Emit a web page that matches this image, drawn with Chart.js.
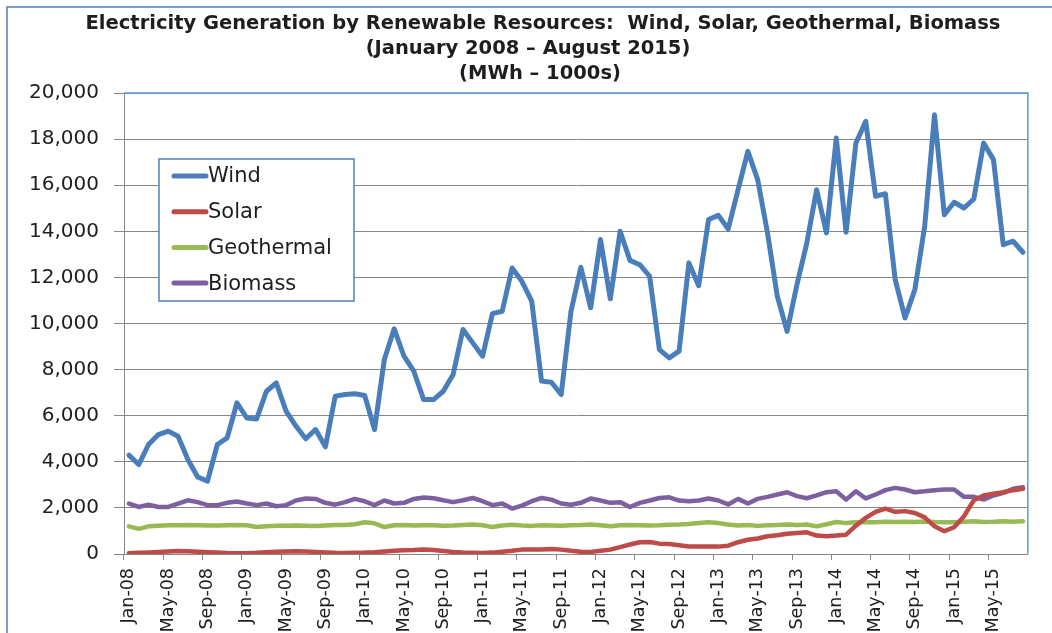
<!DOCTYPE html>
<html>
<head>
<meta charset="utf-8">
<title>Electricity Generation by Renewable Resources</title>
<script src="https://cdn.jsdelivr.net/npm/chart.js@4.4.0/dist/chart.umd.min.js"></script>
<style>
  html, body { margin: 0; padding: 0; background: #fff; }
</style>
</head>
<body>
<canvas id="renewables" width="1052" height="633"></canvas>
<script>
// Monthly categories, Jan 2008 - Aug 2015
const months = [
  "Jan-08","Feb-08","Mar-08","Apr-08","May-08","Jun-08","Jul-08","Aug-08","Sep-08","Oct-08","Nov-08","Dec-08",
  "Jan-09","Feb-09","Mar-09","Apr-09","May-09","Jun-09","Jul-09","Aug-09","Sep-09","Oct-09","Nov-09","Dec-09",
  "Jan-10","Feb-10","Mar-10","Apr-10","May-10","Jun-10","Jul-10","Aug-10","Sep-10","Oct-10","Nov-10","Dec-10",
  "Jan-11","Feb-11","Mar-11","Apr-11","May-11","Jun-11","Jul-11","Aug-11","Sep-11","Oct-11","Nov-11","Dec-11",
  "Jan-12","Feb-12","Mar-12","Apr-12","May-12","Jun-12","Jul-12","Aug-12","Sep-12","Oct-12","Nov-12","Dec-12",
  "Jan-13","Feb-13","Mar-13","Apr-13","May-13","Jun-13","Jul-13","Aug-13","Sep-13","Oct-13","Nov-13","Dec-13",
  "Jan-14","Feb-14","Mar-14","Apr-14","May-14","Jun-14","Jul-14","Aug-14","Sep-14","Oct-14","Nov-14","Dec-14",
  "Jan-15","Feb-15","Mar-15","Apr-15","May-15","Jun-15","Jul-15","Aug-15"
];

// MWh (1000s)
const wind = [
  4290, 3880, 4750, 5180, 5330, 5110, 4100, 3340, 3160, 4750, 5040, 6560,
  5900, 5860, 7060, 7420, 6200, 5550, 5000, 5400, 4650, 6850, 6920, 6950,
  6880, 5400, 8440, 9770, 8580, 7930, 6700, 6700, 7060, 7790, 9740, 9160,
  8580, 10430, 10530, 12410, 11830, 10970, 7500, 7450, 6920, 10530, 12440, 10680,
  13640, 11070, 14000, 12740, 12550, 12050, 8870, 8510, 8800, 12630, 11640, 14510,
  14690, 14100, 15800, 17470, 16240, 13930, 11180, 9660, 11690, 13490, 15800, 13930,
  18050, 13960, 17830, 18770, 15520, 15630, 11900, 10240, 11470, 14220, 19060, 14720,
  15260, 15010, 15400, 17830, 17110, 13420, 13570, 13090
];
const solar = [
  30, 50, 70, 90, 110, 130, 120, 100, 80, 60, 40, 30,
  30, 50, 80, 100, 110, 120, 110, 90, 70, 50, 40, 50,
  60, 80, 110, 140, 160, 170, 190, 170, 130, 90, 60, 50,
  40, 60, 100, 140, 190, 190, 200, 220, 190, 140, 100, 90,
  140, 190, 300, 410, 510, 520, 450, 430, 380, 330, 320, 330,
  320, 360, 510, 620, 670, 770, 810, 880, 910, 940, 800, 770,
  800, 840, 1230, 1570, 1830, 1970, 1830, 1860, 1780, 1590, 1200, 990,
  1160, 1640, 2330, 2540, 2620, 2680, 2770, 2830
];
const geothermal = [
  1200, 1090, 1200, 1230, 1250, 1250, 1260, 1250, 1240, 1240, 1250, 1260,
  1250, 1170, 1200, 1230, 1230, 1240, 1230, 1220, 1240, 1260, 1260, 1290,
  1380, 1330, 1170, 1250, 1260, 1240, 1250, 1250, 1230, 1240, 1260, 1280,
  1250, 1170, 1240, 1270, 1240, 1220, 1250, 1240, 1230, 1250, 1260, 1280,
  1250, 1200, 1250, 1260, 1250, 1240, 1250, 1270, 1280, 1300, 1340, 1380,
  1340, 1280, 1240, 1260, 1220, 1250, 1260, 1280, 1260, 1280, 1200, 1290,
  1390, 1340, 1380, 1390, 1380, 1400, 1390, 1400, 1390, 1410, 1390, 1380,
  1380, 1400, 1420, 1390, 1400, 1420, 1400, 1420
];
const biomass = [
  2190, 2040, 2140, 2040, 2040, 2190, 2330, 2250, 2120, 2120, 2220, 2280,
  2190, 2120, 2190, 2070, 2120, 2320, 2410, 2390, 2220, 2140, 2250, 2390,
  2290, 2120, 2320, 2190, 2220, 2390, 2450, 2420, 2330, 2250, 2330, 2430,
  2290, 2120, 2190, 1970, 2100, 2290, 2430, 2360, 2190, 2140, 2220, 2410,
  2320, 2220, 2250, 2040, 2220, 2320, 2430, 2460, 2320, 2290, 2320, 2410,
  2320, 2150, 2390, 2190, 2390, 2480, 2580, 2680, 2510, 2420, 2540, 2680,
  2720, 2360, 2720, 2410, 2580, 2770, 2870, 2800, 2680, 2720, 2770, 2800,
  2800, 2480, 2480, 2360, 2540, 2650, 2830, 2900
];

const titleLines = [
  "Electricity Generation by Renewable Resources:  Wind, Solar, Geothermal, Biomass",
  "(January 2008 \u2013 August 2015)",
  "(MWh \u2013 1000s)"
];

const GRID = "#868686";
const TEXT = "#1e1e1e";
const FONT = "'DejaVu Sans', sans-serif";

// Frame, title and the inset legend are drawn by hand, the way the Excel chart looks
const decorPlugin = {
  id: "decor",
  beforeDraw(chart) {
    const ctx = chart.ctx;
    ctx.save();
    ctx.fillStyle = "#fff";
    ctx.fillRect(0, 0, chart.width, chart.height);
    // outer chart frame
    ctx.strokeStyle = "#4f81bd";
    ctx.lineWidth = 1.5;
    ctx.beginPath();
    ctx.moveTo(7, chart.height);
    ctx.lineTo(7, 7);
    ctx.lineTo(chart.width, 7);
    ctx.stroke();
    ctx.restore();
  },
  afterDraw(chart) {
    const ctx = chart.ctx;
    const area = chart.chartArea;
    ctx.save();

    // plot area border (top and right)
    ctx.strokeStyle = "#5b9bd5";
    ctx.lineWidth = 1.5;
    ctx.beginPath();
    ctx.moveTo(area.left, area.top);
    ctx.lineTo(area.right, area.top);
    ctx.lineTo(area.right, area.bottom);
    ctx.stroke();

    // title
    ctx.fillStyle = TEXT;
    ctx.font = "bold 19.5px " + FONT;
    ctx.textAlign = "center";
    ctx.textBaseline = "alphabetic";
    const centers = [543, 528, 540];
    const baselines = [29, 54, 79];
    titleLines.forEach((line, i) => ctx.fillText(line, centers[i], baselines[i]));

    // legend box
    const box = { x: 159, y: 159, w: 195, h: 142 };
    ctx.fillStyle = "#fff";
    ctx.fillRect(box.x, box.y, box.w, box.h);
    ctx.strokeStyle = "#4f81bd";
    ctx.lineWidth = 1.5;
    ctx.strokeRect(box.x, box.y, box.w, box.h);

    ctx.font = "21px " + FONT;
    ctx.textAlign = "left";
    ctx.textBaseline = "middle";
    chart.data.datasets.forEach((ds, i) => {
      const y = 176 + i * 35.7;
      ctx.strokeStyle = ds.borderColor;
      ctx.lineWidth = 5;
      ctx.lineCap = "round";
      ctx.beginPath();
      ctx.moveTo(174, y);
      ctx.lineTo(206, y);
      ctx.stroke();
      ctx.fillStyle = TEXT;
      ctx.fillText(ds.label, 208, y + 1);
    });
    ctx.restore();
  }
};

function lineSet(label, data, color, width) {
  return {
    label: label,
    data: data,
    borderColor: color,
    backgroundColor: color,
    borderWidth: width,
    borderJoinStyle: "round",
    borderCapStyle: "round",
    pointRadius: 0,
    tension: 0,
    fill: false
  };
}

new Chart(document.getElementById("renewables").getContext("2d"), {
  type: "line",
  data: {
    labels: months,
    datasets: [
      lineSet("Wind", wind, "#4a7ebb", 5),
      lineSet("Solar", solar, "#be4b48", 4.5),
      lineSet("Geothermal", geothermal, "#98b954", 4.5),
      lineSet("Biomass", biomass, "#7d60a0", 4.5)
    ]
  },
  options: {
    responsive: false,
    animation: false,
    layout: { padding: { top: 93, right: 13, left: 0, bottom: 0 } },
    plugins: {
      legend: { display: false },
      title: { display: false },
      tooltip: { enabled: false }
    },
    scales: {
      x: {
        offset: true,
        grid: {
          display: true,
          offset: true,
          drawOnChartArea: false,
          tickLength: 6,
          tickWidth: 1,
          tickColor: (c) => (c.index !== undefined && c.index % 4 === 0 ? GRID : "rgba(0,0,0,0)")
        },
        border: { color: GRID, width: 1 },
        ticks: {
          autoSkip: false,
          minRotation: 90,
          maxRotation: 90,
          padding: 8,
          color: TEXT,
          font: { family: FONT, size: 17.5 },
          callback: function (value, index) {
            return index % 4 === 0 ? this.getLabelForValue(value) : "";
          }
        },
        afterFit: (scale) => { scale.height = 79; }
      },
      y: {
        min: 0,
        max: 20000,
        grid: { color: GRID, tickLength: 10, lineWidth: 1 },
        border: { color: GRID, width: 1 },
        ticks: {
          stepSize: 2000,
          padding: 15,
          color: TEXT,
          font: { family: FONT, size: 20 },
          callback: (v) => v.toLocaleString("en-US")
        },
        afterFit: (scale) => { scale.width = 124; }
      }
    }
  },
  plugins: [decorPlugin]
});
</script>
</body>
</html>
